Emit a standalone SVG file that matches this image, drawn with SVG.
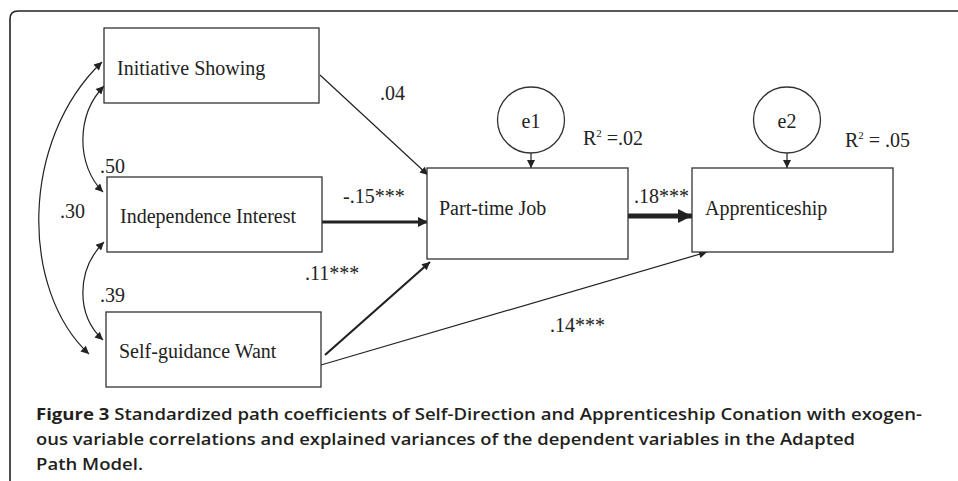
<svg xmlns="http://www.w3.org/2000/svg" width="958" height="481" viewBox="0 0 958 481">
<style>
.box{fill:#fff;stroke:#333;stroke-width:1.3}
.lbl{font-family:"Liberation Serif",serif;font-size:20px;fill:#222}
.num{font-family:"Liberation Serif",serif;font-size:20px;fill:#222}
.ln{fill:none;stroke:#222}
.cap{font-family:"Open Sans","Noto Sans",sans-serif;font-size:16px;fill:#231f20;font-weight:600}
</style>
<defs>
<marker id="ah" markerUnits="userSpaceOnUse" viewBox="0 0 10 10" refX="10" refY="5" markerWidth="11" markerHeight="8" orient="auto-start-reverse"><path d="M0,0 L10,5 L0,10 z" fill="#222"/></marker>
<marker id="ahm" markerUnits="userSpaceOnUse" viewBox="0 0 10 10" refX="10" refY="5" markerWidth="12" markerHeight="10" orient="auto"><path d="M0,0 L10,5 L0,10 z" fill="#222"/></marker>
<marker id="ahb" markerUnits="userSpaceOnUse" viewBox="0 0 10 10" refX="10" refY="5" markerWidth="16" markerHeight="14" orient="auto"><path d="M0,0 L10,5 L0,10 z" fill="#222"/></marker>
</defs>
<path d="M10,481 L10,19 Q10,11 18,11 L958,11" fill="none" stroke="#222" stroke-width="1.6"/>
<g id="connectors">
<path class="ln" d="M104,86 C76,115 76,165 103,192" stroke-width="1.2" marker-start="url(#ah)" marker-end="url(#ah)"/>
<path class="ln" d="M104,242 C76,270 76,315 103,340" stroke-width="1.2" marker-start="url(#ah)" marker-end="url(#ah)"/>
<path class="ln" d="M102,62 C20,140 20,290 89,354" stroke-width="1.2" marker-start="url(#ah)" marker-end="url(#ah)"/>
<line class="ln" x1="320" y1="75" x2="428" y2="175" stroke-width="1.2" marker-end="url(#ah)"/>
<line class="ln" x1="322" y1="222" x2="428" y2="222" stroke-width="3" marker-end="url(#ahm)"/>
<line class="ln" x1="325" y1="355" x2="430" y2="262" stroke-width="2.2" marker-end="url(#ah)"/>
<line class="ln" x1="321" y1="365" x2="707" y2="252" stroke-width="1.2" marker-end="url(#ah)"/>
<line class="ln" x1="628" y1="216" x2="692" y2="216" stroke-width="5" marker-end="url(#ahb)"/>
<line class="ln" x1="531" y1="153" x2="531" y2="168" stroke-width="1.2" marker-end="url(#ah)"/>
<line class="ln" x1="787" y1="153" x2="787" y2="168" stroke-width="1.2" marker-end="url(#ah)"/>
</g>
<g id="initiative"><rect class="box" x="104" y="28" width="215" height="75"/><text class="lbl" x="117" y="75">Initiative Showing</text></g>
<g id="independence"><rect class="box" x="107" y="177" width="215" height="75"/><text class="lbl" x="120" y="223">Independence Interest</text></g>
<g id="selfguidance"><rect class="box" x="106" y="312" width="215" height="75"/><text class="lbl" x="119" y="358">Self-guidance Want</text></g>
<g id="parttime"><rect class="box" x="427" y="168" width="201" height="91"/><text class="lbl" x="439" y="215">Part-time Job</text></g>
<g id="apprenticeship"><rect class="box" x="692" y="168" width="201" height="84"/><text class="lbl" x="705" y="215">Apprenticeship</text></g>
<g id="e1"><ellipse class="box" cx="531" cy="120" rx="33.5" ry="33"/><text class="lbl" x="531" y="128" text-anchor="middle">e1</text></g>
<g id="e2"><ellipse class="box" cx="787" cy="120" rx="33.5" ry="33"/><text class="lbl" x="787" y="128" text-anchor="middle">e2</text></g>
<g id="labels">
<text class="num" x="583" y="145">R<tspan font-size="11" dy="-8">2</tspan><tspan dy="8"> =.02</tspan></text>
<text class="num" x="845" y="147">R<tspan font-size="11" dy="-8">2</tspan><tspan dy="8"> = .05</tspan></text>
<text class="num" x="380" y="100">.04</text>
<text class="num" x="343" y="203">-.15***</text>
<text class="num" x="100" y="173">.50</text>
<text class="num" x="60" y="218">.30</text>
<text class="num" x="100" y="302">.39</text>
<text class="num" x="305" y="280">.11***</text>
<text class="num" x="550" y="332">.14***</text>
<text class="num" x="634" y="203">.18***</text>
</g>
<g id="caption">
<text class="cap" x="36" y="420" textLength="886" lengthAdjust="spacingAndGlyphs"><tspan font-weight="bold">Figure 3</tspan> Standardized path coefficients of Self-Direction and Apprenticeship Conation with exogen-</text>
<text class="cap" x="36" y="445" textLength="819" lengthAdjust="spacingAndGlyphs">ous variable correlations and explained variances of the dependent variables in the Adapted</text>
<text class="cap" x="36" y="470" textLength="107" lengthAdjust="spacingAndGlyphs">Path Model.</text>
</g>
</svg>
